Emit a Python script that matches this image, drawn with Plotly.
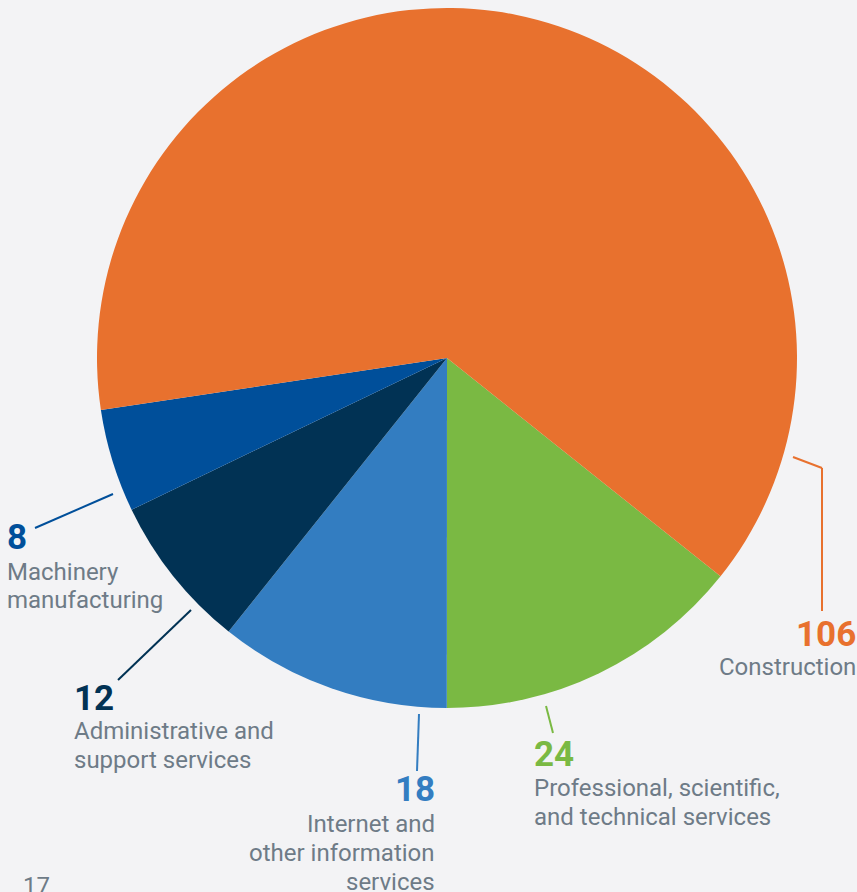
import plotly.graph_objects as go

# ---- data ----
categories = ["Professional, scientific, and technical services",
              "Internet and other information services",
              "Administrative and support services",
              "Machinery manufacturing",
              "Construction"]
values = [24, 18, 12, 8, 106]
colors = ["#7AB943", "#337DC1", "#013254", "#004F9A", "#E8712E"]
label_lines = [["Professional, scientific,", "and technical services"],
               ["Internet and", "other information", "services"],
               ["Administrative and", "support services"],
               ["Machinery", "manufacturing"],
               ["Construction"]]
page_number = "17"

# ---- layout constants (pixels) ----
W, H = 857, 892
BG = "#F3F3F5"
TXT = "#6E7B87"
cx, cy, R = 447, 358, 350


def px(x):
    return x / W


def py(y):
    return 1 - y / H


fig = go.Figure(go.Pie(
    labels=categories, values=values, sort=False, direction="clockwise",
    rotation=128.6,
    marker=dict(colors=colors, line=dict(width=0)),
    textinfo="none", hoverinfo="label+value", showlegend=False,
    domain=dict(x=[px(cx - R), px(cx + R)], y=[py(cy + R), py(cy - R)]),
))

# label placement: (anchor x, align, number center y, first line center y, line step)
placements = [
    (532, "left", 754.5, 788, 29),
    (437, "right", 789.5, 823.5, 29),
    (72, "left", 698, 730.5, 29),
    (5, "left", 537, 571.5, 28),
    (858, "right", 634.5, 666.5, 29),
]
leaders = [
    [(546, 706), (553, 733)],
    [(419, 714), (417, 771)],
    [(191, 610), (118, 680)],
    [(113, 494), (35, 528)],
    [(793, 457), (822, 468), (822, 611)],
]

annotations = []
shapes = []
for i, (x, al, ny, ly, step) in enumerate(placements):
    annotations.append(dict(
        x=px(x), y=py(ny), xref="paper", yref="paper", showarrow=False,
        xanchor=al, yanchor="middle", text=f"<b>{values[i]}</b>",
        font=dict(family="Roboto", size=35, color=colors[i])))
    for j, line in enumerate(label_lines[i]):
        annotations.append(dict(
            x=px(x), y=py(ly + j * step), xref="paper", yref="paper",
            showarrow=False, xanchor=al, yanchor="middle", text=line,
            font=dict(family="Roboto", size=24, color=TXT)))
    pts = leaders[i]
    for (x0, y0), (x1, y1) in zip(pts[:-1], pts[1:]):
        shapes.append(dict(type="line", xref="paper", yref="paper",
                           x0=px(x0), y0=py(y0), x1=px(x1), y1=py(y1),
                           line=dict(color=colors[i], width=2)))

annotations.append(dict(
    x=px(21), y=py(885.5), xref="paper", yref="paper", showarrow=False,
    xanchor="left", yanchor="middle", text=page_number,
    font=dict(family="Roboto", size=24, color=TXT)))

fig.update_layout(
    width=W, height=H, margin=dict(l=0, r=0, t=0, b=0),
    paper_bgcolor=BG, plot_bgcolor=BG,
    annotations=annotations, shapes=shapes,
)

fig.write_html("out.html")
